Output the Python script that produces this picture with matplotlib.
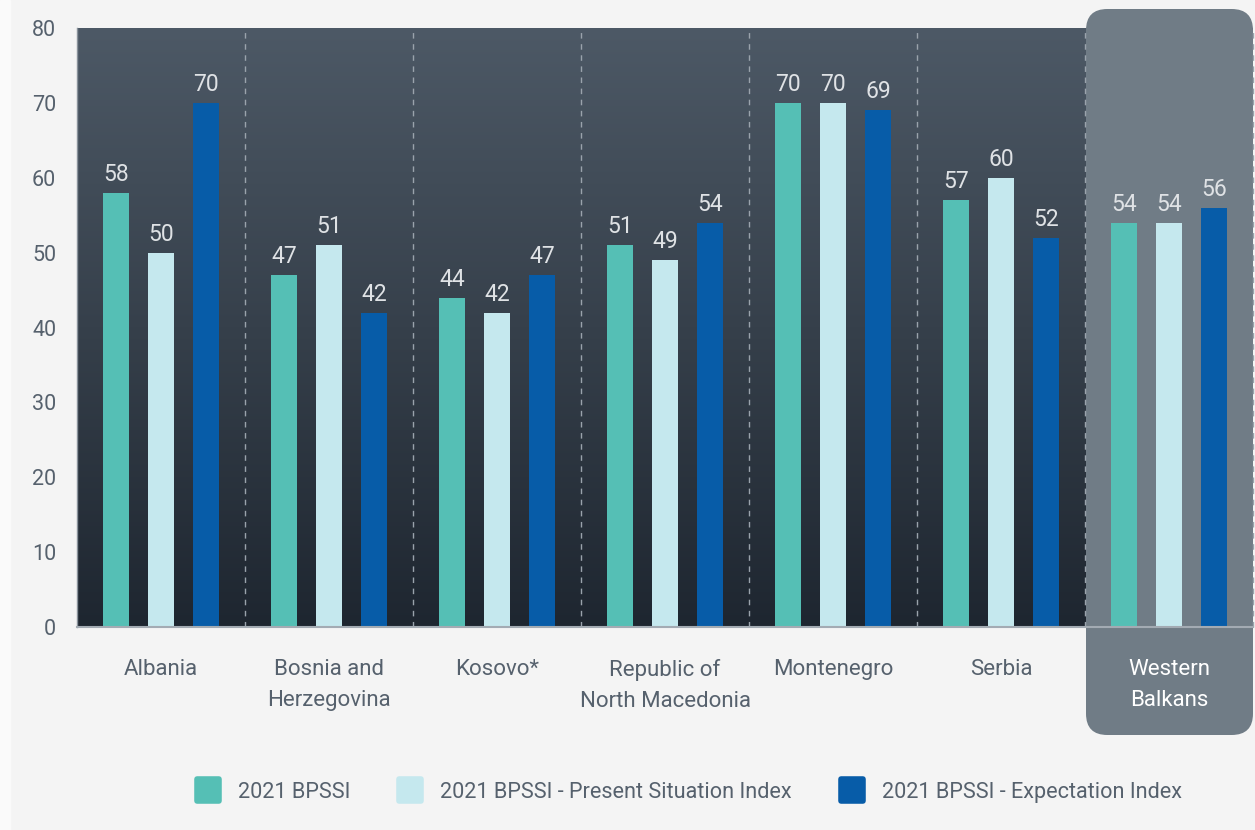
import numpy as np
import matplotlib.pyplot as plt
from matplotlib.patches import FancyBboxPatch, Rectangle
from matplotlib.lines import Line2D
from matplotlib.markers import MarkerStyle
from matplotlib.colors import LinearSegmentedColormap

plt.rcParams['font.family'] = ['Roboto', 'DejaVu Sans']

countries = ["Albania", "Bosnia and\nHerzegovina", "Kosovo*", "Republic of\nNorth Macedonia",
             "Montenegro", "Serbia", "Western\nBalkans"]
bpssi = [58, 47, 44, 51, 70, 57, 54]
present = [50, 51, 42, 49, 70, 60, 54]
expect = [70, 42, 47, 54, 69, 52, 56]
series_names = ["2021 BPSSI", "2021 BPSSI - Present Situation Index", "2021 BPSSI - Expectation Index"]
colors = ["#55bfb5", "#c5e8ee", "#075ca8"]
yticks = [0, 10, 20, 30, 40, 50, 60, 70, 80]

W, H = 1255, 830
fig = plt.figure(figsize=(W / 100, H / 100), dpi=100)
fig.patch.set_facecolor("#f4f4f4")
fig.patches.append(Rectangle((0, 0), 10 / W, 1, transform=fig.transFigure,
                             color="#fafafa", zorder=-1))

ax = fig.add_axes([77 / W, 1 - 627 / H, 1176 / W, 599 / H])
n = len(countries)
ax.set_xlim(-0.5, n - 0.5)
ax.set_ylim(0, 80)

# gradient background
grad = np.linspace(1, 0, 256).reshape(-1, 1)
cmap = LinearSegmentedColormap.from_list("bg", ["#1e2630", "#36404b", "#4d5966"])
ax.imshow(grad, extent=[-0.5, n - 0.5, 0, 80], aspect="auto", cmap=cmap,
          vmin=0, vmax=1, zorder=0, origin="upper")

# Western Balkans highlight panel
panel = FancyBboxPatch((1086 / W, 1 - 735 / H), 167 / W, 726 / H,
                       boxstyle="round,pad=0,rounding_size=0.017",
                       mutation_aspect=W / H, transform=fig.transFigure,
                       facecolor="#707c86", edgecolor="none", clip_on=False, zorder=0.5)
ax.add_patch(panel)

x = np.arange(n)
bw = 0.16
off = 0.268
for i, (vals, c) in enumerate(zip([bpssi, present, expect], colors)):
    xs = x + (i - 1) * off
    ax.bar(xs, vals, width=bw, color=c, zorder=2)
    for xx, v in zip(xs, vals):
        ax.annotate(str(v), (xx, v), xytext=(0, 5), textcoords="offset points",
                    ha="center", va="bottom", fontsize=16.5, color="#dfe2e5",
                    zorder=3)

for s in np.arange(0.5, n, 1.0):
    ax.axvline(s, color="#9aa3ac", lw=1, dashes=(4, 4), zorder=1, clip_on=False)

ax.axhline(0, color="#a3abb3", lw=1.5, zorder=3, clip_on=False)
for side in ["top", "right", "bottom"]:
    ax.spines[side].set_visible(False)
ax.spines["left"].set_color("#8a939c")
ax.spines["left"].set_linewidth(1)

ax.set_yticks(yticks)
ax.tick_params(axis="y", length=0, pad=15, labelsize=15.5, labelcolor="#56616d")
ax.set_xticks(x)
ax.set_xticklabels(countries, fontsize=16, color="#56616d", linespacing=1.6)
ax.tick_params(axis="x", length=0, pad=23)
ax.get_xticklabels()[-1].set_color("white")

sq = MarkerStyle("s", joinstyle="round")
handles = [Line2D([], [], marker=sq, linestyle="none", markersize=16.5,
                  markerfacecolor=c, markeredgecolor=c, markeredgewidth=4)
           for c in colors]
leg = fig.legend(handles, series_names, loc="center", ncol=3, frameon=False,
                 bbox_to_anchor=(684 / W, 1 - 792 / H), fontsize=15.6,
                 handletextpad=0.4, columnspacing=1.75, labelcolor="#56616d")

fig.savefig("out.png", dpi=100, facecolor=fig.get_facecolor())
